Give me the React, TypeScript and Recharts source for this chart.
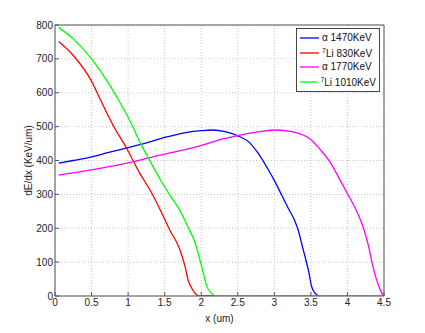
import React from 'react';
import { LineChart, Line, XAxis, YAxis, CartesianGrid, Legend } from 'recharts';

const xTicks = [0, 0.5, 1, 1.5, 2, 2.5, 3, 3.5, 4, 4.5];
const yTicks = [0, 100, 200, 300, 400, 500, 600, 700, 800];

const alpha1470X = [0.05, 0.25, 0.5, 0.75, 1.0, 1.25, 1.5, 1.75, 2.0, 2.15, 2.33, 2.51, 2.65, 2.78, 2.92, 3.01, 3.1, 3.19, 3.28, 3.33, 3.37, 3.42, 3.47, 3.51, 3.56, 3.62];
const alpha1470Y = [392, 400, 411, 425, 438, 452, 468, 481, 488, 490, 485, 472, 455, 421, 372, 337, 298, 259, 222, 192, 158, 116, 72, 28, 8, 0];

const li830X = [0.05, 0.25, 0.5, 0.62, 0.8, 0.98, 1.16, 1.3, 1.44, 1.57, 1.71, 1.78, 1.82, 1.87, 1.94, 1.97, 2.16];
const li830Y = [751, 710, 634, 580, 502, 436, 362, 313, 254, 195, 136, 86, 47, 23, 3, 0, 0];

const alpha1770X = [0.05, 0.5, 0.62, 1.0, 1.44, 1.85, 2.33, 2.53, 2.8, 3.01, 3.24, 3.51, 3.625, 3.76, 3.9, 4.01, 4.13, 4.22, 4.29, 4.35, 4.4, 4.45, 4.49];
const alpha1770Y = [357, 372, 377, 393, 416, 436, 465, 475, 485, 490, 485, 460, 433, 396, 342, 298, 249, 200, 146, 86, 47, 18, 0];

const li1010X = [0.05, 0.25, 0.5, 0.75, 0.87, 1.03, 1.16, 1.3, 1.44, 1.57, 1.71, 1.82, 1.92, 1.98, 2.03, 2.07, 2.14, 2.19, 4.5];
const li1010Y = [793, 759, 700, 622, 578, 515, 455, 398, 344, 298, 252, 203, 155, 108, 67, 32, 8, 0, 0];

const toPoints = (xs: number[], ys: number[]) => xs.map((x, i) => ({ x, y: ys[i] }));

const series = [
  { key: 'a1470', prefix: '\u03b1', sup: '', label: ' 1470KeV', color: '#0000ff', data: toPoints(alpha1470X, alpha1470Y) },
  { key: 'li830', prefix: '', sup: '7', label: 'Li 830KeV', color: '#ff0000', data: toPoints(li830X, li830Y) },
  { key: 'a1770', prefix: '\u03b1', sup: '', label: ' 1770KeV', color: '#ff00ff', data: toPoints(alpha1770X, alpha1770Y) },
  { key: 'li1010', prefix: '', sup: '7', label: 'Li 1010KeV', color: '#00ff00', data: toPoints(li1010X, li1010Y) },
];

const FONT = '"Liberation Sans", Arial, sans-serif';
const FRAME = '#555';

const LegendBox = () => (
  <div
    style={{
      border: '1px solid #444',
      background: '#fff',
      padding: '2px 3px 2px 3px',
      fontFamily: FONT,
      fontSize: 10,
      color: '#111',
      width: 76,
    }}
  >
    {series.map((s) => (
      <div key={s.key} style={{ display: 'flex', alignItems: 'center', height: 14.5 }}>
        <svg width={19} height={4} style={{ marginRight: 3, display: 'block' }}>
          <line x1={0} y1={2} x2={19} y2={2} stroke={s.color} strokeWidth={1.3} />
        </svg>
        <span style={{ whiteSpace: 'nowrap', lineHeight: '12px' }}>
          {s.prefix}
          {s.sup ? <sup style={{ fontSize: 7, verticalAlign: 4 }}>{s.sup}</sup> : null}
          {s.label}
        </span>
      </div>
    ))}
  </div>
);

export default function App() {
  const tickStyle = { fontSize: 10, fill: '#222', fontFamily: FONT };
  return (
    <div style={{ position: 'absolute', left: 0, top: 0, width: 425, height: 333, background: '#fff' }}>
      <LineChart width={425} height={333} margin={{ top: 24, right: 40, bottom: 12, left: 25 }}>
        <CartesianGrid stroke="#b5b5b5" strokeDasharray="1 2" strokeWidth={0.8} xAxisId="main" yAxisId="main" />
        <XAxis
          xAxisId="main"
          dataKey="x"
          type="number"
          domain={[0, 4.5]}
          ticks={xTicks}
          allowDataOverflow
          height={25}
          tickSize={-4}
          tickMargin={7}
          stroke={FRAME}
          tick={tickStyle}
          label={{ value: 'x (um)', position: 'insideBottom', offset: -1, style: { fontSize: 10, fill: '#222', fontFamily: FONT } }}
        />
        <XAxis
          xAxisId="top"
          orientation="top"
          type="number"
          domain={[0, 4.5]}
          ticks={xTicks}
          allowDataOverflow
          height={1}
          tickSize={-4}
          stroke={FRAME}
          tick={false}
        />
        <YAxis
          yAxisId="main"
          type="number"
          domain={[0, 800]}
          ticks={yTicks}
          allowDataOverflow
          width={30}
          tickSize={-4}
          tickMargin={6}
          stroke={FRAME}
          tick={tickStyle}
          label={{ value: 'dE/dx  (KeV/um)', angle: -90, position: 'insideLeft', offset: 3, style: { textAnchor: 'middle', fontSize: 10, fill: '#222', fontFamily: FONT } }}
        />
        <YAxis
          yAxisId="right"
          orientation="right"
          type="number"
          domain={[0, 800]}
          ticks={yTicks}
          allowDataOverflow
          width={1}
          tickSize={-4}
          stroke={FRAME}
          tick={false}
        />
        <Legend
          layout="vertical"
          align="center"
          verticalAlign="middle"
          wrapperStyle={{ position: 'absolute', top: 28, left: 296, width: 84 }}
          content={() => <LegendBox />}
        />
        {series.map((s) => (
          <Line
            key={s.key}
            xAxisId="main"
            yAxisId="main"
            data={s.data}
            dataKey="y"
            type="monotone"
            stroke={s.color}
            strokeWidth={1.3}
            dot={false}
            isAnimationActive={false}
            legendType="line"
          />
        ))}
      </LineChart>
    </div>
  );
}
